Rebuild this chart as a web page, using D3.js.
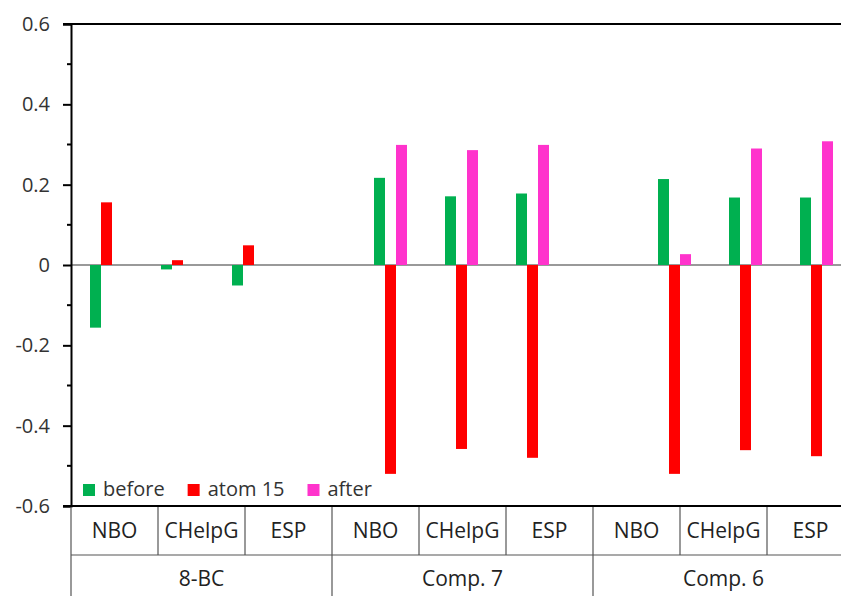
<!DOCTYPE html>
<html>
<head>
<meta charset="utf-8">
<script src="https://cdn.jsdelivr.net/npm/d3@7"></script>
<style>
  body { margin: 0; background: #fff; }
  svg { display: block; font-family: "Open Sans", sans-serif; }
</style>
</head>
<body>
<div id="chart"></div>
<script>
// chart values
var groups = ["8-BC", "Comp. 7", "Comp. 6"];
var methods = ["NBO", "CHelpG", "ESP"];
var series = ["before", "atom 15", "after"];
var colors = ["#00B050", "#FF0000", "#FF33CC"];

var before = [-0.156, -0.011, -0.051, 0.217, 0.171, 0.178, 0.214, 0.168, 0.168];
var atom15 = [0.156, 0.012, 0.049, -0.520, -0.458, -0.480, -0.520, -0.461, -0.476];
var after  = [null, null, null, 0.299, 0.286, 0.299, 0.027, 0.290, 0.308];

var yTicks = [-0.6, -0.4, -0.2, 0, 0.2, 0.4, 0.6];
var yMinor = [-0.5, -0.3, -0.1, 0.1, 0.3, 0.5];

var width = 841, height = 596;
var marginLeft = 71, marginTop = 24, axisBottom = 506;
var slotW = 71, cellW = 87;

var svg = d3.select("#chart").append("svg")
    .attr("width", width)
    .attr("height", height);

// one slot per method, plus an empty slot between groups
var slots = [];
groups.forEach(function(g, gi) {
    methods.forEach(function(m) { slots.push(g + "|" + m); });
    if (gi < groups.length - 1) slots.push("gap" + gi);
});

var x0 = d3.scaleBand().domain(slots).range([marginLeft, marginLeft + slots.length * slotW]);
var x1 = d3.scaleBand().domain(series)
    .range([(x0.bandwidth() - 33) / 2, (x0.bandwidth() + 33) / 2]);
var y = d3.scaleLinear().domain([-0.6, 0.6]).range([axisBottom, marginTop]);

// table scales (cells are wider than the bar slots)
var cells = [];
groups.forEach(function(g) { methods.forEach(function(m) { cells.push(g + "|" + m); }); });
var xCell = d3.scaleBand().domain(cells).range([marginLeft, marginLeft + cells.length * cellW]);
var xGroup = d3.scaleBand().domain(groups).range([marginLeft, marginLeft + cells.length * cellW]);

// top border
svg.append("line")
    .attr("x1", marginLeft - 8).attr("x2", width)
    .attr("y1", y(0.6)).attr("y2", y(0.6))
    .attr("stroke", "#000").attr("stroke-width", 2);

// zero line
svg.append("line")
    .attr("x1", marginLeft).attr("x2", width)
    .attr("y1", y(0)).attr("y2", y(0))
    .attr("stroke", "#777").attr("stroke-width", 1.5);

// bars
var rows = [];
cells.forEach(function(c, i) {
    [before, atom15, after].forEach(function(arr, si) {
        if (arr[i] !== null) rows.push({ key: c, s: series[si], v: arr[i], color: colors[si] });
    });
});

svg.append("g").selectAll("rect")
    .data(rows)
    .enter().append("rect")
    .attr("x", function(d) { return x0(d.key) + x1(d.s); })
    .attr("width", x1.bandwidth())
    .attr("y", function(d) { return y(Math.max(0, d.v)); })
    .attr("height", function(d) { return Math.abs(y(d.v) - y(0)); })
    .attr("fill", function(d) { return d.color; });

// y axis
var fmt = function(d) { return d === 0 ? "0" : d3.format(".1f")(d).replace("\u2212", "-"); };
var yAxis = svg.append("g")
    .attr("transform", "translate(" + marginLeft + ",0)")
    .call(d3.axisLeft(y).tickValues(yTicks).tickSize(8).tickPadding(13).tickFormat(fmt));
yAxis.select(".domain").attr("stroke", "#000").attr("stroke-width", 2);
yAxis.selectAll(".tick line").attr("stroke", "#000").attr("stroke-width", 2);
yAxis.selectAll("text")
    .attr("font-family", "Open Sans, sans-serif")
    .attr("font-size", 20)
    .attr("fill", "#333");

svg.append("g").selectAll("line")
    .data(yMinor)
    .enter().append("line")
    .attr("x1", marginLeft - 4).attr("x2", marginLeft)
    .attr("y1", function(d) { return y(d); })
    .attr("y2", function(d) { return y(d); })
    .attr("stroke", "#000").attr("stroke-width", 2);

// legend
var legend = svg.append("g");
var lx = 83;
series.forEach(function(s, i) {
    legend.append("rect")
        .attr("x", lx).attr("y", 484)
        .attr("width", 12).attr("height", 12)
        .attr("fill", colors[i]);
    var t = legend.append("text")
        .attr("x", lx + 20).attr("y", 496)
        .attr("font-size", 20)
        .attr("fill", "#333")
        .text(s);
    lx += 20 + t.node().getComputedTextLength() + 23;
});

// table below the axis
var row1 = axisBottom, row2 = 555, row3 = 620;
var table = svg.append("g");

table.selectAll(".cellv")
    .data(cells.concat(["end"]))
    .enter().append("line")
    .attr("x1", function(d, i) { return xCell.range()[0] + i * xCell.step(); })
    .attr("x2", function(d, i) { return xCell.range()[0] + i * xCell.step(); })
    .attr("y1", row1).attr("y2", row2)
    .attr("stroke", "#555").attr("stroke-width", 1.2);

table.selectAll(".groupv")
    .data(groups.concat(["end"]))
    .enter().append("line")
    .attr("x1", function(d, i) { return xGroup.range()[0] + i * xGroup.step(); })
    .attr("x2", function(d, i) { return xGroup.range()[0] + i * xGroup.step(); })
    .attr("y1", row2).attr("y2", row3)
    .attr("stroke", "#555").attr("stroke-width", 1.2);

table.append("line")
    .attr("x1", marginLeft).attr("x2", width)
    .attr("y1", row2).attr("y2", row2)
    .attr("stroke", "#555").attr("stroke-width", 1.2);

table.selectAll(".celltext")
    .data(cells)
    .enter().append("text")
    .attr("x", function(d) { return xCell(d) + xCell.bandwidth() / 2; })
    .attr("y", 538)
    .attr("text-anchor", "middle")
    .attr("font-size", 21)
    .attr("fill", "#222")
    .text(function(d) { return d.split("|")[1]; });

table.selectAll(".grouptext")
    .data(groups)
    .enter().append("text")
    .attr("x", function(d) { return xGroup(d) + xGroup.bandwidth() / 2; })
    .attr("y", 586)
    .attr("text-anchor", "middle")
    .attr("font-size", 21)
    .attr("fill", "#222")
    .text(function(d) { return d; });

// x axis line (drawn last so it sits over the table top)
svg.append("line")
    .attr("x1", marginLeft - 8).attr("x2", width)
    .attr("y1", axisBottom).attr("y2", axisBottom)
    .attr("stroke", "#000").attr("stroke-width", 2);
</script>
</body>
</html>
